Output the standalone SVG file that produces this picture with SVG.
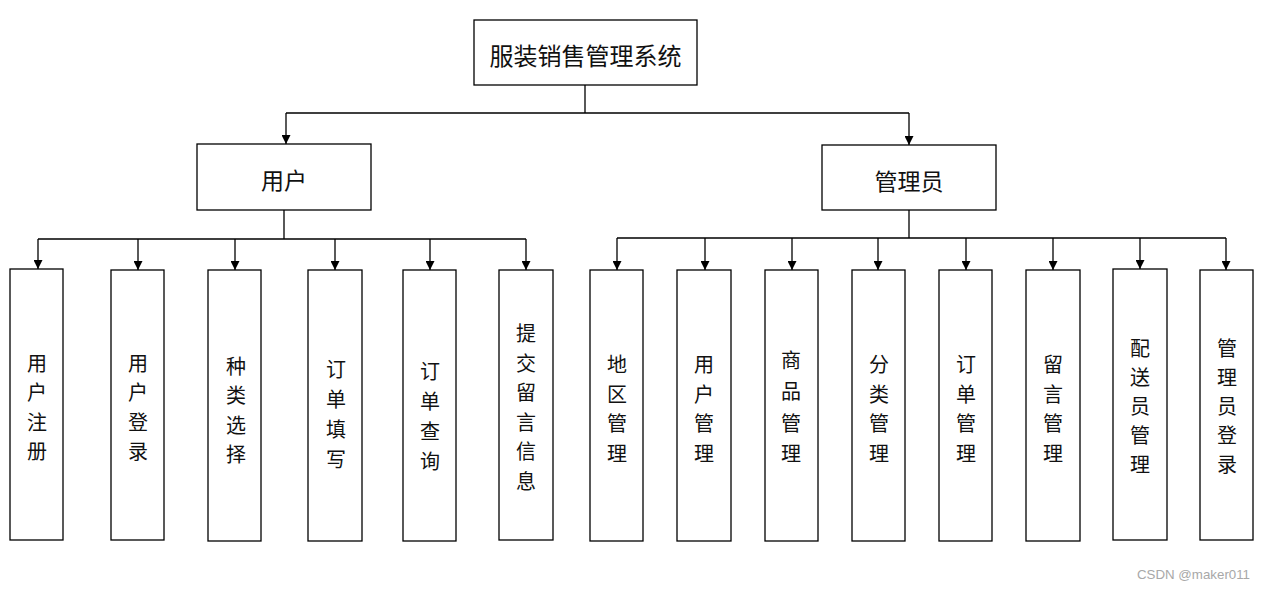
<svg xmlns="http://www.w3.org/2000/svg" width="1264" height="589" viewBox="0 0 1264 589">
<style>
.box{fill:#fff;stroke:#000;stroke-width:1.3}
.t{font-family:"Noto Sans CJK SC","Noto Sans CJK JP",sans-serif;fill:#111;text-anchor:middle;dominant-baseline:central}
.v{font-size:20px}
.c{fill:none;stroke:#000;stroke-width:1.3}
.wm{font-family:"Liberation Sans",Arial,sans-serif;font-size:13.3px;fill:#a8a8a8}
</style>
<defs>
<marker id="ah" viewBox="0 0 10 10" refX="10" refY="5" markerWidth="9" markerHeight="9" markerUnits="userSpaceOnUse" orient="auto">
<path d="M0,0 L10,5 L0,10 z" fill="#000"/>
</marker>
</defs>
<rect width="1264" height="589" fill="#fff"/>
<g id="connectors">
<path class="c" d="M585,85 V113 M286,113 H909"/>
<path class="c" d="M286,113 V144" marker-end="url(#ah)"/>
<path class="c" d="M909,113 V145" marker-end="url(#ah)"/>
<path class="c" d="M284,210 V239 M38,239 H526"/>
<path class="c" d="M38,239 V269" marker-end="url(#ah)"/>
<path class="c" d="M138,239 V270" marker-end="url(#ah)"/>
<path class="c" d="M235,239 V270" marker-end="url(#ah)"/>
<path class="c" d="M335,239 V270" marker-end="url(#ah)"/>
<path class="c" d="M430,239 V270" marker-end="url(#ah)"/>
<path class="c" d="M526,239 V270" marker-end="url(#ah)"/>
<path class="c" d="M909,210 V238 M617,238 H1226"/>
<path class="c" d="M617,238 V270" marker-end="url(#ah)"/>
<path class="c" d="M705,238 V270" marker-end="url(#ah)"/>
<path class="c" d="M792,238 V270" marker-end="url(#ah)"/>
<path class="c" d="M878,238 V270" marker-end="url(#ah)"/>
<path class="c" d="M966,238 V270" marker-end="url(#ah)"/>
<path class="c" d="M1053,238 V270" marker-end="url(#ah)"/>
<path class="c" d="M1140,238 V269" marker-end="url(#ah)"/>
<path class="c" d="M1226,238 V270" marker-end="url(#ah)"/>
</g>
<g id="root">
<rect class="box" x="474" y="20" width="223" height="65"/>
<text class="t" x="585.5" y="54" font-size="24">服装销售管理系统</text>
</g>
<g id="user">
<rect class="box" x="197" y="144" width="174" height="66"/>
<text class="t" x="284" y="179" font-size="23">用户</text>
</g>
<g id="admin">
<rect class="box" x="822" y="145" width="174" height="65"/>
<text class="t" x="909" y="180" font-size="23">管理员</text>
</g>
<g id="u1">
<rect class="box" x="10" y="269" width="53" height="271"/>
<text class="t v" x="37"><tspan x="37" y="362">用</tspan><tspan x="37" y="391">户</tspan><tspan x="37" y="421">注</tspan><tspan x="37" y="450">册</tspan></text>
</g>
<g id="u2">
<rect class="box" x="111" y="270" width="53" height="270"/>
<text class="t v" x="138"><tspan x="138" y="362">用</tspan><tspan x="138" y="391">户</tspan><tspan x="138" y="421">登</tspan><tspan x="138" y="450">录</tspan></text>
</g>
<g id="u3">
<rect class="box" x="208" y="270" width="53" height="271"/>
<text class="t v" x="236"><tspan x="236" y="365">种</tspan><tspan x="236" y="394">类</tspan><tspan x="236" y="424">选</tspan><tspan x="236" y="453">择</tspan></text>
</g>
<g id="u4">
<rect class="box" x="308" y="270" width="54" height="271"/>
<text class="t v" x="336"><tspan x="336" y="368">订</tspan><tspan x="336" y="398">单</tspan><tspan x="336" y="428">填</tspan><tspan x="336" y="458">写</tspan></text>
</g>
<g id="u5">
<rect class="box" x="403" y="270" width="53" height="271"/>
<text class="t v" x="430"><tspan x="430" y="370">订</tspan><tspan x="430" y="400">单</tspan><tspan x="430" y="430">查</tspan><tspan x="430" y="460">询</tspan></text>
</g>
<g id="u6">
<rect class="box" x="499" y="270" width="54" height="270"/>
<text class="t v" x="526"><tspan x="526" y="332">提</tspan><tspan x="526" y="362">交</tspan><tspan x="526" y="391">留</tspan><tspan x="526" y="421">言</tspan><tspan x="526" y="450">信</tspan><tspan x="526" y="480">息</tspan></text>
</g>
<g id="a1">
<rect class="box" x="590" y="270" width="53" height="271"/>
<text class="t v" x="617"><tspan x="617" y="363">地</tspan><tspan x="617" y="393">区</tspan><tspan x="617" y="422">管</tspan><tspan x="617" y="452">理</tspan></text>
</g>
<g id="a2">
<rect class="box" x="677" y="270" width="54" height="271"/>
<text class="t v" x="704"><tspan x="704" y="363">用</tspan><tspan x="704" y="393">户</tspan><tspan x="704" y="422">管</tspan><tspan x="704" y="452">理</tspan></text>
</g>
<g id="a3">
<rect class="box" x="765" y="270" width="53" height="271"/>
<text class="t v" x="791"><tspan x="791" y="359">商</tspan><tspan x="791" y="390">品</tspan><tspan x="791" y="422">管</tspan><tspan x="791" y="452">理</tspan></text>
</g>
<g id="a4">
<rect class="box" x="852" y="270" width="53" height="271"/>
<text class="t v" x="879"><tspan x="879" y="363">分</tspan><tspan x="879" y="393">类</tspan><tspan x="879" y="422">管</tspan><tspan x="879" y="452">理</tspan></text>
</g>
<g id="a5">
<rect class="box" x="939" y="270" width="53" height="271"/>
<text class="t v" x="966"><tspan x="966" y="363">订</tspan><tspan x="966" y="393">单</tspan><tspan x="966" y="422">管</tspan><tspan x="966" y="452">理</tspan></text>
</g>
<g id="a6">
<rect class="box" x="1026" y="270" width="54" height="271"/>
<text class="t v" x="1053"><tspan x="1053" y="363">留</tspan><tspan x="1053" y="393">言</tspan><tspan x="1053" y="422">管</tspan><tspan x="1053" y="452">理</tspan></text>
</g>
<g id="a7">
<rect class="box" x="1113" y="269" width="54" height="271"/>
<text class="t v" x="1140"><tspan x="1140" y="347">配</tspan><tspan x="1140" y="376">送</tspan><tspan x="1140" y="405">员</tspan><tspan x="1140" y="434">管</tspan><tspan x="1140" y="463">理</tspan></text>
</g>
<g id="a8">
<rect class="box" x="1200" y="270" width="53" height="270"/>
<text class="t v" x="1227"><tspan x="1227" y="347">管</tspan><tspan x="1227" y="376">理</tspan><tspan x="1227" y="405">员</tspan><tspan x="1227" y="434">登</tspan><tspan x="1227" y="463">录</tspan></text>
</g>
<text class="wm" x="1137" y="579">CSDN @maker011</text>
</svg>
